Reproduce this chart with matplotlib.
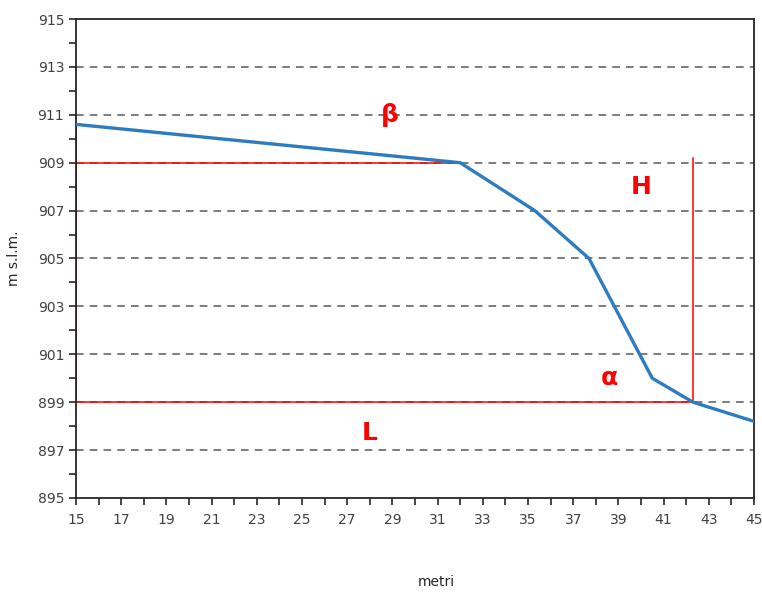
import matplotlib
matplotlib.use("Agg")
import matplotlib.pyplot as plt
from matplotlib.ticker import FixedLocator, MultipleLocator

# Slope profile (distance in metres, elevation in m s.l.m.)
dist = [15.0, 32.0, 35.3, 37.7, 40.5, 42.3, 45.0]
elev = [910.6, 909.0, 907.0, 905.0, 900.0, 899.0, 898.2]

# Axis ticks
x_ticks = [15, 17, 19, 21, 23, 25, 27, 29, 31, 33, 35, 37, 39, 41, 43, 45]
y_ticks = [895, 897, 899, 901, 903, 905, 907, 909, 911, 913, 915]
grid_levels = [897, 899, 901, 903, 905, 907, 909, 911, 913]

# Construction lines
crest_elev = 909.0
toe_elev = 899.0
toe_x = 42.3
h_top = 909.2

# Annotations
labels = ["β", "H", "α", "L"]
label_x = [28.9, 40.0, 38.6, 28.0]
label_y = [911.0, 908.0, 900.0, 897.7]

fig = plt.figure(figsize=(7.62, 5.92), dpi=100)
ax = fig.add_axes([0.0997, 0.1588, 0.8898, 0.8091])

ax.set_xlim(15, 45)
ax.set_ylim(895, 915)

ax.xaxis.set_major_locator(FixedLocator(x_ticks))
ax.xaxis.set_minor_locator(MultipleLocator(1))
ax.yaxis.set_major_locator(FixedLocator(y_ticks))
ax.yaxis.set_minor_locator(MultipleLocator(1))

# Horizontal dashed gridlines at the labelled elevations
for yv in grid_levels:
    ax.axhline(yv, color="#595959", lw=1.1, ls=(0, (5, 4)), zorder=1)

red = "#ff0000"
ax.plot([dist[0], dist[0]], [toe_elev, elev[0]], color=red, lw=1.4, zorder=2)
ax.plot([dist[0], dist[1]], [crest_elev, crest_elev], color=red, lw=1.1, zorder=2)
ax.plot([dist[0], toe_x], [toe_elev, toe_elev], color=red, lw=1.1, zorder=2)
ax.plot([toe_x, toe_x], [toe_elev, h_top], color=red, lw=1.1, zorder=2)

ax.plot(dist, elev, color="#2e7cc0", lw=2.4, zorder=3, solid_joinstyle="round")

for t, xv, yv in zip(labels, label_x, label_y):
    ax.text(xv, yv, t, color=red, fontsize=18, fontweight="bold",
            ha="center", va="center", zorder=4)

for s in ax.spines.values():
    s.set_color("#262626")
    s.set_linewidth(1.3)

ax.tick_params(which="both", direction="out", length=5, width=1.2,
               colors="#262626")
ax.tick_params(which="major", labelcolor="#404040", labelsize=10)
ax.tick_params(axis="x", pad=6)

ax.set_ylabel("m s.l.m.", fontsize=10, color="#262626", labelpad=12)
fig.text(0.573, 0.005, "metri", ha="center", va="bottom", fontsize=10, color="#262626")

fig.savefig("out.png", dpi=100)
